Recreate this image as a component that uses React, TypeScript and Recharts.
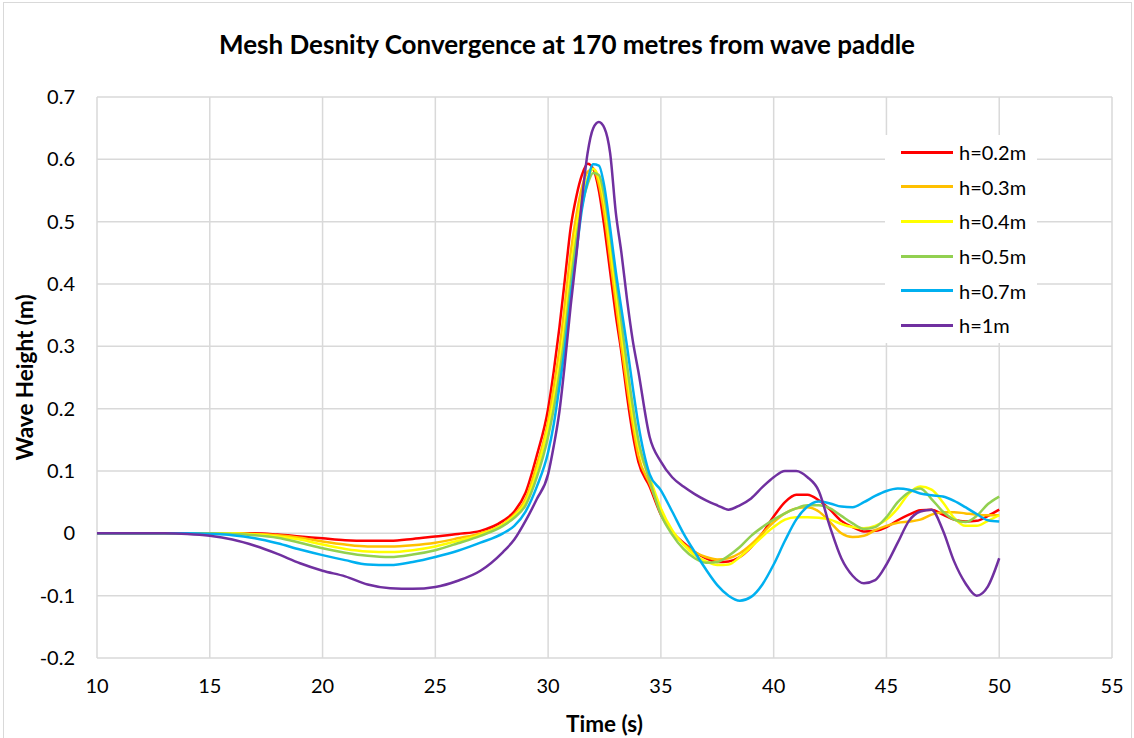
import React from 'react';
import { LineChart, Line, XAxis, YAxis, CartesianGrid, Label } from 'recharts';

const time = [10, 11, 12, 13, 14, 15, 16, 17, 18, 19, 20, 21, 22, 23, 24, 25, 26, 27, 28, 28.5, 29, 29.5, 30, 30.25, 30.5, 30.75, 31, 31.25, 31.5, 31.75, 32, 32.25, 32.5, 32.75, 33, 33.25, 33.5, 33.75, 34, 34.5, 35, 35.5, 36, 36.5, 37, 37.5, 38, 38.5, 39, 39.5, 40, 40.5, 41, 41.5, 42, 42.5, 43, 43.5, 44, 44.5, 45, 45.5, 46, 46.5, 47, 47.5, 48, 48.5, 49, 49.5, 50];

const h02 = [0, 0, 0, 0, 0, 0, 0, 0, -0.002, -0.005, -0.008, -0.011, -0.012, -0.012, -0.009, -0.005, -0.001, 0.004, 0.02, 0.035, 0.065, 0.125, 0.2, 0.26, 0.33, 0.41, 0.49, 0.54, 0.575, 0.593, 0.585, 0.55, 0.49, 0.42, 0.35, 0.29, 0.22, 0.16, 0.115, 0.075, 0.03, 0.002, -0.015, -0.03, -0.04, -0.046, -0.045, -0.038, -0.022, 0.0, 0.027, 0.05, 0.062, 0.062, 0.053, 0.038, 0.02, 0.01, 0.003, 0.004, 0.01, 0.021, 0.03, 0.037, 0.038, 0.03, 0.022, 0.019, 0.02, 0.028, 0.038];

const h03 = [0, 0, 0, 0, 0, 0, 0, -0.001, -0.003, -0.007, -0.013, -0.018, -0.021, -0.021, -0.019, -0.015, -0.008, 0.0, 0.015, 0.03, 0.055, 0.11, 0.18, 0.235, 0.295, 0.37, 0.45, 0.51, 0.555, 0.58, 0.585, 0.56, 0.51, 0.44, 0.37, 0.3, 0.235, 0.175, 0.125, 0.08, 0.035, 0.003, -0.017, -0.03, -0.038, -0.042, -0.04, -0.032, -0.018, 0.0, 0.018, 0.032, 0.04, 0.042, 0.035, 0.018, 0.0, -0.006, -0.004, 0.005, 0.012, 0.017, 0.019, 0.022, 0.03, 0.034, 0.034, 0.032, 0.03, 0.029, 0.029];

const h04 = [0, 0, 0, 0, 0, 0, 0, -0.002, -0.005, -0.01, -0.018, -0.025, -0.029, -0.03, -0.027, -0.021, -0.012, -0.002, 0.014, 0.028, 0.05, 0.1, 0.17, 0.215, 0.27, 0.34, 0.42, 0.49, 0.54, 0.57, 0.585, 0.57, 0.53, 0.46, 0.39, 0.32, 0.255, 0.19, 0.14, 0.09, 0.04, 0.005, -0.018, -0.035, -0.045, -0.051, -0.05, -0.038, -0.022, -0.005, 0.01, 0.022, 0.026, 0.026, 0.025, 0.022, 0.015, 0.01, 0.008, 0.012, 0.022, 0.04, 0.064, 0.075, 0.07, 0.05, 0.025, 0.012, 0.012, 0.02, 0.029];

const h05 = [0, 0, 0, 0, 0, 0, -0.001, -0.003, -0.007, -0.015, -0.024, -0.031, -0.036, -0.038, -0.034, -0.027, -0.016, -0.004, 0.012, 0.025, 0.045, 0.09, 0.155, 0.2, 0.255, 0.32, 0.4, 0.47, 0.525, 0.56, 0.578, 0.575, 0.54, 0.48, 0.41, 0.34, 0.27, 0.205, 0.15, 0.085, 0.03, -0.002, -0.025, -0.04, -0.047, -0.046, -0.036, -0.022, -0.004, 0.01, 0.022, 0.032, 0.04, 0.045, 0.045, 0.04, 0.028, 0.016, 0.007, 0.01, 0.026, 0.05, 0.066, 0.072, 0.055, 0.035, 0.022, 0.018, 0.028, 0.047, 0.059];

const h07 = [0, 0, 0, 0, 0, -0.001, -0.003, -0.008, -0.016, -0.026, -0.035, -0.043, -0.05, -0.051, -0.046, -0.038, -0.028, -0.015, 0.0, 0.012, 0.035, 0.075, 0.13, 0.175, 0.235, 0.3, 0.38, 0.45, 0.52, 0.565, 0.592, 0.59, 0.555, 0.49, 0.42, 0.36, 0.3, 0.235, 0.175, 0.095, 0.069, 0.035, 0.0, -0.03, -0.058, -0.083, -0.1, -0.108, -0.102, -0.082, -0.05, -0.012, 0.022, 0.043, 0.051, 0.048, 0.043, 0.042, 0.05, 0.06, 0.068, 0.072, 0.07, 0.064, 0.061, 0.059, 0.052, 0.042, 0.031, 0.021, 0.019];

const h1 = [0, 0, 0, 0, -0.001, -0.004, -0.01, -0.02, -0.033, -0.048, -0.06, -0.069, -0.082, -0.088, -0.089, -0.086, -0.076, -0.06, -0.03, -0.01, 0.02, 0.055, 0.095, 0.14, 0.195, 0.275, 0.365, 0.445, 0.535, 0.61, 0.65, 0.66, 0.65, 0.61, 0.515, 0.45, 0.375, 0.31, 0.26, 0.155, 0.115, 0.09, 0.075, 0.063, 0.053, 0.045, 0.038, 0.045, 0.056, 0.074, 0.09, 0.1, 0.1, 0.09, 0.068, 0.01, -0.04, -0.068, -0.08, -0.075, -0.05, -0.015, 0.02, 0.035, 0.038, 0.005, -0.045, -0.08, -0.1, -0.085, -0.04];

const xTicks = [10, 15, 20, 25, 30, 35, 40, 45, 50, 55];
const yTicks = [-0.2, -0.1, 0, 0.1, 0.2, 0.3, 0.4, 0.5, 0.6, 0.7];

const series = [
  { key: 'h02', name: 'h=0.2m', color: '#FF0000' },
  { key: 'h03', name: 'h=0.3m', color: '#FFC000' },
  { key: 'h04', name: 'h=0.4m', color: '#FFFF00' },
  { key: 'h05', name: 'h=0.5m', color: '#92D050' },
  { key: 'h07', name: 'h=0.7m', color: '#00B0F0' },
  { key: 'h1', name: 'h=1m', color: '#7030A0' },
];

const data = time.map((t, i) => ({
  t,
  h02: h02[i],
  h03: h03[i],
  h04: h04[i],
  h05: h05[i],
  h07: h07[i],
  h1: h1[i],
}));

const font = 'Lato, "Open Sans", sans-serif';

const App = () => {
  return (
    <div style={{ position: 'absolute', left: 0, top: 0, width: 1134, height: 738, background: '#fff', overflow: 'hidden' }}>
      <div style={{ position: 'absolute', left: 3, top: 2, width: 1127, height: 740, border: '1px solid #d9d9d9' }} />
      <div style={{ position: 'absolute', left: 0, top: 28, width: 1134, textAlign: 'center', fontFamily: font, fontWeight: 'bold', fontSize: 26, color: '#000' }}>
        Mesh Desnity Convergence at 170 metres from wave paddle
      </div>
      <LineChart width={1134} height={738} data={data} margin={{ top: 97, right: 22, bottom: 20, left: 37 }}>
        <CartesianGrid stroke="#d9d9d9" strokeWidth={1.5} />
        <XAxis
          dataKey="t"
          type="number"
          domain={[10, 55]}
          ticks={xTicks}
          axisLine={false}
          tickLine={false}
          tickMargin={15}
          height={60}
          tick={{ fill: '#000', fontSize: 20, fontFamily: font }}
        >
          <Label value="Time (s)" position="insideBottom" offset={-14} style={{ fill: '#000', fontSize: 22.5, fontWeight: 'bold', fontFamily: font }} />
        </XAxis>
        <YAxis
          type="number"
          domain={[-0.2, 0.7]}
          ticks={yTicks}
          axisLine={false}
          tickLine={false}
          tickMargin={16}
          width={60}
          tickFormatter={(v: number) => String(Math.round(v * 10) / 10)}
          tick={{ fill: '#000', fontSize: 20, fontFamily: font }}
        >
          <Label value="Wave Height (m)" angle={-90} position="insideLeft" offset={-12} style={{ textAnchor: 'middle', fill: '#000', fontSize: 22.5, fontWeight: 'bold', fontFamily: font }} />
        </YAxis>
        {series.map((s) => (
          <Line
            key={s.key}
            type="monotone"
            dataKey={s.key}
            name={s.name}
            stroke={s.color}
            strokeWidth={2.5}
            dot={false}
            isAnimationActive={false}
          />
        ))}
      </LineChart>
      <div style={{ position: 'absolute', left: 885, top: 135, width: 152, background: '#fff', padding: '0 0 0 16px', boxSizing: 'border-box', fontFamily: font, fontSize: 20, color: '#000' }}>
        {series.map((s) => (
          <div key={s.key} style={{ display: 'flex', alignItems: 'center', height: 34.6 }}>
            <div style={{ width: 52, height: 3, background: s.color, marginRight: 6 }} />
            <span>{s.name}</span>
          </div>
        ))}
      </div>
    </div>
  );
};

export default App;
